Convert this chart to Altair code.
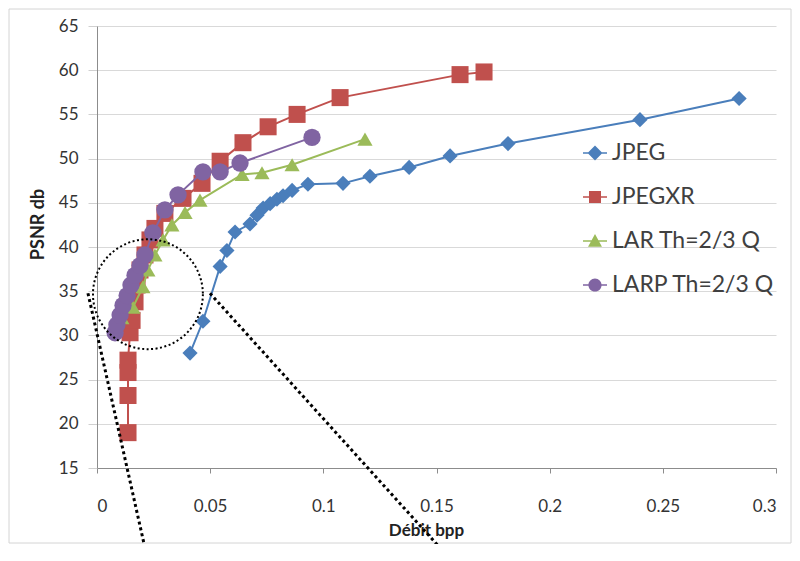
import altair as alt
import pandas as pd

SERIES = ["JPEG", "JPEGXR", "LAR Th=2/3 Q", "LARP Th=2/3 Q"]
COLORS = ["#4a7ebb", "#c0504d", "#9bbb59", "#8064a2"]

jpeg_x = [0.0411, 0.0468, 0.0544, 0.0574, 0.0610, 0.0676, 0.0707, 0.0734, 0.0765, 0.0795,
          0.0822, 0.0862, 0.0932, 0.1087, 0.1206, 0.1379, 0.1560, 0.1816, 0.2399, 0.2837]
jpeg_y = [28.0, 31.6, 37.8, 39.6, 41.7, 42.6, 43.6, 44.4, 44.9, 45.4,
          45.8, 46.4, 47.1, 47.2, 48.0, 49.0, 50.3, 51.7, 54.4, 56.8]

jpegxr_x = [0.0137, 0.0137, 0.0137, 0.0137, 0.0146, 0.0155, 0.0168, 0.0177, 0.0190, 0.0212,
            0.0234, 0.0256, 0.0300, 0.0380, 0.0464, 0.0544, 0.0645, 0.0756, 0.0884, 0.1074,
            0.1604, 0.1710]
jpegxr_y = [19.0, 23.2, 25.8, 27.2, 30.3, 31.7, 33.8, 35.7, 37.4, 39.1,
            40.8, 42.1, 43.8, 45.5, 47.2, 49.7, 51.8, 53.6, 55.0, 56.9,
            59.5, 59.8]

lar_x = [0.0110, 0.0159, 0.0203, 0.0225, 0.0256, 0.0292, 0.0331, 0.0389, 0.0455, 0.0641,
         0.0729, 0.0862, 0.1184]
lar_y = [32.0, 33.2, 35.5, 37.4, 39.1, 40.8, 42.5, 43.9, 45.3, 48.2,
         48.4, 49.3, 52.2]

larp_x = [0.0080, 0.0088, 0.0102, 0.0115, 0.0133, 0.0150, 0.0168, 0.0190, 0.0212, 0.0247,
          0.0300, 0.0358, 0.0468, 0.0544, 0.0632, 0.0950]
larp_y = [30.3, 31.2, 32.3, 33.4, 34.5, 35.7, 36.8, 37.9, 39.1, 41.6,
          44.2, 45.9, 48.5, 48.5, 49.5, 52.4]

X_TICKS = [0, 0.05, 0.1, 0.15, 0.2, 0.25, 0.3]
Y_TICKS = [15, 20, 25, 30, 35, 40, 45, 50, 55, 60, 65]

# annotation (zoom circle and its two dotted leader lines), in data units
zoom_center_x = [0.0225]
zoom_center_y = [34.66]
leader_id = ["left", "left", "right", "right"]
leader_x = [-0.0040, 0.0225, 0.0499, 0.1569]
leader_y = [34.77, 4.46, 34.77, 4.46]

FONT = "Lato"

xs = alt.Scale(domain=[0, 0.3], nice=False, zero=False)
ys = alt.Scale(domain=[15, 65], nice=False, zero=False)
x_axis = alt.Axis(values=X_TICKS, format="~g", grid=False, title="Débit bpp",
                  domainColor="#8c8c8c", tickColor="#8c8c8c", tickSize=5,
                  labelFont=FONT, labelFontSize=17, labelColor="#333333", labelPadding=25,
                  titleFont=FONT, titleFontSize=17, titleFontWeight="bold", titleColor="#222222",
                  titleBaseline="middle", titleX=329, titleY=62)
y_axis = alt.Axis(values=Y_TICKS, grid=True, gridColor="#d9d9d9", title="PSNR db",
                  domainColor="#8c8c8c", tickColor="#d0d0d0", tickSize=9,
                  labelFont=FONT, labelFontSize=17, labelColor="#333333", labelPadding=10,
                  titleFont=FONT, titleFontSize=18, titleFontWeight="bold", titleColor="#222222",
                  titleAngle=-90, titleBaseline="middle", titleX=-59, titleY=198)


def X():
    return alt.X("x:Q", scale=xs, axis=x_axis)


def Y():
    return alt.Y("y:Q", scale=ys, axis=y_axis)


series_data = [(jpeg_x, jpeg_y), (jpegxr_x, jpegxr_y), (lar_x, lar_y), (larp_x, larp_y)]
shapes = ["diamond", "square", "triangle-up", "circle"]
sizes = [230, 290, 230, 300]

layers = []
# light frame around the whole chart
frame = alt.Chart(pd.DataFrame({"a": [0]})).mark_rect(
    fillOpacity=0, stroke="#d4d4d4", strokeWidth=1
).encode(x=alt.value(-88), x2=alt.value(694), y=alt.value(-17), y2=alt.value(517))
layers.append(frame)

for i, (xv, yv) in enumerate(series_data):
    df = pd.DataFrame({"x": xv, "y": yv, "i": list(range(len(xv)))})
    base = alt.Chart(df)
    layers.append(base.mark_line(color=COLORS[i], strokeWidth=2).encode(
        x=X(), y=Y(), order="i:Q"))
    layers.append(base.mark_point(shape=shapes[i], filled=True, size=sizes[i],
                                  color=COLORS[i], opacity=1, strokeWidth=0).encode(
        x=X(), y=Y()))

# legend-only layer (no rows drawn)
LINE = "M-1,-0.07H1V0.07H-1Z"
LEG_PATHS = [
    LINE + "M0,-0.62L0.62,0L0,0.62L-0.62,0Z",
    LINE + "M-0.5,-0.5H0.5V0.5H-0.5Z",
    LINE + "M0,-0.58L0.58,0.48L-0.58,0.48Z",
    LINE + "M-0.55,0A0.55,0.55 0 1,1 0.55,0A0.55,0.55 0 1,1 -0.55,0Z",
]
leg = alt.Legend(orient="none", legendX=486, legendY=115, title=None,
                 labelFont=FONT, labelFontSize=23, labelColor="#404040", labelLimit=400,
                 symbolSize=576, rowPadding=20, padding=0, labelOffset=5,
                 symbolStrokeWidth=0, symbolOpacity=1)
leg_df = pd.DataFrame({"series": SERIES, "x": [0.1] * 4, "y": [40] * 4})
legend_layer = alt.Chart(leg_df).transform_filter("false").mark_point(
    filled=True, opacity=1, strokeWidth=0
).encode(
    color=alt.Color("series:N", scale=alt.Scale(domain=SERIES, range=COLORS), legend=leg),
    shape=alt.Shape("series:N", scale=alt.Scale(domain=SERIES, range=LEG_PATHS), legend=leg),
)
layers.append(legend_layer)

# zoom circle
circ = alt.Chart(pd.DataFrame({"x": zoom_center_x, "y": zoom_center_y})).mark_point(
    shape="circle", size=12076, filled=False, stroke="black", strokeWidth=2,
    strokeDash=[2, 2.5], opacity=1
).encode(x=X(), y=Y())
layers.append(circ)

lead = alt.Chart(pd.DataFrame({"id": leader_id, "x": leader_x, "y": leader_y})).mark_line(
    color="black", strokeWidth=3, strokeDash=[3, 3]
).encode(x=X(), y=Y(), detail="id:N")
layers.append(lead)

chart = alt.layer(*layers).properties(
    width=679, height=442,
    autosize=alt.AutoSizeParams(type="none"),
    padding={"left": 89, "top": 18, "right": 16, "bottom": 76},
    background="white",
).configure_view(stroke=None)

chart.save("out.html", embed_options={"renderer": "svg", "actions": False})
